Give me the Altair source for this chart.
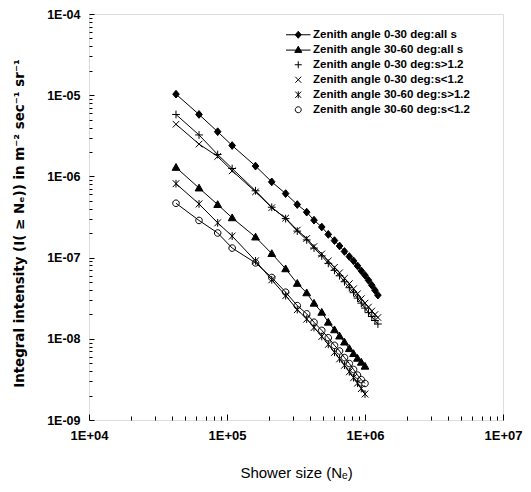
import altair as alt
import pandas as pd

# ---- data ----
shower_size = [42700, 62700, 85600, 109000, 161000, 211000, 266000, 323000, 378000,
               427000, 486000, 542000, 601000, 654000, 710000, 770000, 826000, 882000,
               940000, 1000000, 1060000, 1120000, 1180000, 1240000]

series_names = [
    "Zenith angle 0-30 deg:all s",
    "Zenith angle 30-60 deg:all s",
    "Zenith angle 0-30 deg:s>1.2",
    "Zenith angle 0-30 deg:s<1.2",
    "Zenith angle 30-60 deg:s>1.2",
    "Zenith angle 30-60 deg:s<1.2",
]

z0_30_all = [1.03e-5, 5.79e-6, 3.55e-6, 2.40e-6, 1.34e-6, 8.56e-7, 6.14e-7, 4.50e-7, 3.63e-7,
             2.89e-7, 2.38e-7, 1.93e-7, 1.62e-7, 1.39e-7, 1.19e-7, 1.03e-7, 9.11e-8, 7.91e-8,
             6.87e-8, 6.06e-8, 5.26e-8, 4.57e-8, 3.97e-8, 3.45e-8]
z30_60_all = [1.29e-6, 7.19e-7, 4.50e-7, 3.09e-7, 1.79e-7, 1.12e-7, 7.27e-8, 4.81e-8, 3.68e-8,
              2.74e-8, 2.12e-8, 1.60e-8, 1.29e-8, 1.08e-8, 9.11e-9, 7.56e-9, 6.57e-9, 5.75e-9,
              5.14e-9, 4.59e-9]
z0_30_gt = [5.79e-6, 3.24e-6, 1.86e-6, 1.25e-6, 6.65e-7, 4.17e-7, 3.02e-7, 2.12e-7, 1.65e-7,
            1.31e-7, 1.05e-7, 8.49e-8, 6.97e-8, 5.97e-8, 5.04e-8, 4.26e-8, 3.70e-8, 3.17e-8,
            2.75e-8, 2.39e-8, 2.10e-8, 1.88e-8, 1.68e-8, 1.52e-8]
z0_30_lt = [4.39e-6, 2.50e-6, 1.76e-6, 1.17e-6, 6.46e-7, 4.12e-7, 3.06e-7, 2.18e-7, 1.72e-7,
            1.37e-7, 1.11e-7, 9.11e-8, 7.59e-8, 6.50e-8, 5.56e-8, 4.77e-8, 4.14e-8, 3.59e-8,
            3.12e-8, 2.75e-8, 2.46e-8, 2.20e-8, 1.99e-8, 1.83e-8]
z30_60_gt = [8.14e-7, 4.58e-7, 2.68e-7, 1.84e-7, 9.11e-8, 5.33e-8, 3.40e-8, 2.29e-8, 1.75e-8,
             1.38e-8, 1.07e-8, 8.54e-9, 6.82e-9, 5.67e-9, 4.73e-9, 3.93e-9, 3.32e-9, 2.85e-9,
             2.44e-9, 2.09e-9]
z30_60_lt = [4.67e-7, 2.87e-7, 2.01e-7, 1.31e-7, 8.61e-8, 5.69e-8, 3.75e-8, 2.56e-8, 2.03e-8,
             1.60e-8, 1.27e-8, 1.03e-8, 8.30e-9, 7.07e-9, 5.87e-9, 4.96e-9, 4.19e-9, 3.57e-9,
             3.14e-9, 2.82e-9]

x_major = [1e4, 1e5, 1e6, 1e7]
x_minor = [m * 10 ** e for e in (4, 5, 6) for m in range(2, 10)]
y_major = [1e-9, 1e-8, 1e-7, 1e-6, 1e-5, 1e-4]
y_minor = [m * 10.0 ** e for e in (-9, -8, -7, -6, -5) for m in range(2, 10)]

all_series = [z0_30_all, z30_60_all, z0_30_gt, z0_30_lt, z30_60_gt, z30_60_lt]
rows = []
for name, vals in zip(series_names, all_series):
    for xv, yv in zip(shower_size, vals):
        rows.append({"series": name, "lg": name, "x": xv, "y": yv})
df = pd.DataFrame(rows)

# ---- styling ----
FONT = "Liberation Sans, Arial"
marker_paths = [
    "M0,-1L0.85,0L0,1L-0.85,0Z",
    "M0,-1L1,0.75L-1,0.75Z",
    "M-1,0L1,0M0,-1L0,1",
    "M-0.85,-0.85L0.85,0.85M-0.85,0.85L0.85,-0.85",
    "M-0.85,-0.9L0.85,0.9M-0.85,0.9L0.85,-0.9M0,-1L0,1",
    "M0.85,0A0.85,0.85,0,1,1,-0.85,0A0.85,0.85,0,1,1,0.85,0Z",
]
legend_paths = [
    "M-3.5,0L3.5,0M0,-1L0.85,0L0,1L-0.85,0Z",
    "M-3.5,0.1L3.5,0.1M0,-1L1,0.75L-1,0.75Z",
] + marker_paths[2:]
fills = ["black", "black", "transparent", "transparent", "transparent", "transparent"]
strokes = ["black"] * 6
widths = [1, 1, 1.6, 1.6, 1.6, 1.6]

xscale = alt.Scale(type="log", domain=[1e4, 1e7])
yscale = alt.Scale(type="log", domain=[1e-9, 1e-4])

x_label_axis = alt.Axis(
    values=x_major, ticks=False, domain=False, grid=False,
    labelExpr="'1E+0' + round(log(datum.value)/LN10)",
    labelFont=FONT, labelFontSize=13, labelFontWeight="bold", labelColor="black",
    labelPadding=9, labelFlush=False,
    title="Shower size (Nₑ)", titleFont=FONT, titleFontSize=15, titleFontWeight="normal",
    titleColor="black", titleY=52, titleBaseline="middle",
)
y_label_axis = alt.Axis(
    values=y_major, ticks=False, domain=False, grid=False,
    labelExpr="'1E-0' + round(-log(datum.value)/LN10)",
    labelFont=FONT, labelFontSize=12.5, labelFontWeight="bold", labelColor="black",
    labelPadding=9, labelFlush=False,
    title="Integral intensity (I( ≥ Nₑ)) in m⁻² sec⁻¹ sr⁻¹",
    titleFont="DejaVu Sans, Liberation Sans", titleFontSize=13.4, titleFontWeight="bold",
    titleColor="black", titleX=-70, titleY=209, titleBaseline="middle",
)


def tick_axis(vals, size, orient):
    return alt.Axis(values=vals, orient=orient, tickSize=size, offset=-size,
                    labels=False, domain=False, grid=False, title=None,
                    tickColor="black", tickWidth=1)


lines = alt.Chart(df).mark_line(color="black").encode(
    x=alt.X("x:Q", scale=xscale, axis=x_label_axis),
    y=alt.Y("y:Q", scale=yscale, axis=y_label_axis),
    detail="series:N",
    strokeWidth=alt.StrokeWidth("series:N", scale=alt.Scale(domain=series_names, range=widths), legend=None),
)

points = alt.Chart(df).mark_point(filled=True, stroke="black", strokeWidth=1, size=60, opacity=1).encode(
    x=alt.X("x:Q", scale=xscale, axis=None),
    y=alt.Y("y:Q", scale=yscale, axis=None),
    shape=alt.Shape("series:N", scale=alt.Scale(domain=series_names, range=marker_paths), legend=None),
    fill=alt.Fill("series:N", scale=alt.Scale(domain=series_names, range=fills), legend=None),
)

legend_layer = alt.Chart(df).transform_filter("false").mark_point(
    filled=True, strokeWidth=1, size=49, opacity=1
).encode(
    x=alt.X("x:Q", scale=xscale, axis=None),
    y=alt.Y("y:Q", scale=yscale, axis=None),
    shape=alt.Shape("lg:N", scale=alt.Scale(domain=series_names, range=legend_paths),
                    legend=alt.Legend(title=None, orient="none", legendX=203.5, legendY=15,
                                      padding=0, rowPadding=2, labelOffset=9,
                                      labelFont=FONT, labelFontSize=11.5, labelFontWeight="bold",
                                      labelColor="black", labelLimit=0,
                                      symbolSize=49, symbolStrokeWidth=1)),
    fill=alt.Fill("lg:N", scale=alt.Scale(domain=series_names, range=fills)),
    stroke=alt.Stroke("lg:N", scale=alt.Scale(domain=series_names, range=strokes)),
)

major_ticks = alt.Chart(df).transform_filter("false").mark_point().encode(
    x=alt.X("x:Q", scale=xscale, axis=tick_axis(x_major, 6, "bottom")),
    y=alt.Y("y:Q", scale=yscale, axis=tick_axis(y_major, 5, "left")),
)
minor_ticks = alt.Chart(df).transform_filter("false").mark_point().encode(
    x=alt.X("x:Q", scale=xscale, axis=tick_axis(x_minor, 4, "bottom")),
    y=alt.Y("y:Q", scale=yscale, axis=tick_axis(y_minor, 3, "left")),
)

chart = alt.layer(lines, points, legend_layer, major_ticks, minor_ticks).resolve_axis(
    x="independent", y="independent"
).resolve_scale(
    shape="independent", fill="independent", stroke="independent"
).properties(
    width=414, height=406,
    autosize=alt.AutoSizeParams(type="none"),
    padding={"left": 81, "top": 6, "right": 20, "bottom": 64},
).configure_view(stroke="black", strokeWidth=1).configure(background="white")

chart.save("out.html", embed_options={"renderer": "svg", "actions": False})
